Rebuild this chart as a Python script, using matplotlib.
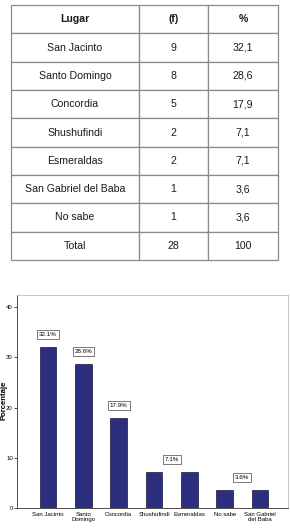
import matplotlib.pyplot as plt
import numpy as np

plt.rcParams['font.family'] = ['Liberation Sans', 'DejaVu Sans']

# Table data
lugares = ['San Jacinto', 'Santo Domingo', 'Concordia', 'Shushufindi',
           'Esmeraldas', 'San Gabriel del Baba', 'No sabe']
frecuencias = [9, 8, 5, 2, 2, 1, 1]
porcentajes_tabla = ['32,1', '28,6', '17,9', '7,1', '7,1', '3,6', '3,6']
total_f = 28
total_pct = '100'

# Chart data
categorias = ['San Jacinto', 'Santo\nDomingo', 'Concordia', 'Shushufindi',
              'Esmeraldas', 'No sabe', 'San Gabriel\ndel Baba']
porcentajes = [32.1, 28.6, 17.9, 7.1, 7.1, 3.6, 3.6]

fig = plt.figure(figsize=(2.9, 5.28), dpi=100)

# ---- table ----
tab_ax = fig.add_axes([0, 0.5, 1, 0.5])
tab_ax.axis('off')
rows = [['Lugar', '(f)', '%']]
rows += [[l, str(f), p] for l, f, p in zip(lugares, frecuencias, porcentajes_tabla)]
rows += [['Total', str(total_f), total_pct]]
tbl = tab_ax.table(cellText=rows, cellLoc='center', colWidths=[0.479, 0.258, 0.263],
                   bbox=[11 / 290, (1 - 260 / 528 - 0.5) / 0.5, 267 / 290, 255 / 264])
tbl.auto_set_font_size(False)
for (r, c), cell in tbl.get_celld().items():
    cell.set_edgecolor('#8a8a8a')
    cell.set_linewidth(0.9)
    cell.get_text().set_fontsize(7.6)
    cell.get_text().set_color('#1a1a1a')
    if r == 0:
        cell.get_text().set_fontweight('bold')

# ---- bar chart ----
ax = fig.add_axes([17 / 290, 20 / 528, 271 / 290, 213 / 528])
x = np.arange(len(categorias))
ax.bar(x, porcentajes, width=0.47, color='#2b2f7e', edgecolor='#15173f', linewidth=0.5)

# boxed value labels (equal neighbouring values share one label)
i = 0
while i < len(porcentajes):
    j = i
    while j + 1 < len(porcentajes) and porcentajes[j + 1] == porcentajes[i]:
        j += 1
    xc = (x[i] + x[j]) / 2
    ax.annotate(f'{porcentajes[i]:.1f}%', (xc, porcentajes[i]), xytext=(0, 9),
                textcoords='offset points', ha='center', va='center', fontsize=4.5,
                bbox=dict(boxstyle='square,pad=0.3', fc='white', ec='#444444', lw=0.5))
    i = j + 1

ax.set_xlim(-0.88, 6.79)
ax.set_ylim(0, 42.4)
ax.set_yticks([0, 10, 20, 30, 40])
ax.set_xticks(x)
ax.set_xticklabels(categorias, fontsize=4.3, linespacing=0.95)
ax.tick_params(axis='x', length=0, pad=3)
ax.tick_params(axis='y', labelsize=4.3, length=2, width=0.5, pad=1)
fig.text(0.5 / 290, 1 - 400 / 528, 'Porcentaje', rotation=90, ha='left', va='center',
         fontsize=5.6, fontweight='bold')
for s in ['left', 'bottom']:
    ax.spines[s].set_color('#333333')
    ax.spines[s].set_linewidth(0.6)
for s in ['top', 'right']:
    ax.spines[s].set_color('#bbbbbb')
    ax.spines[s].set_linewidth(0.6)

fig.savefig('out.png', dpi=100)
